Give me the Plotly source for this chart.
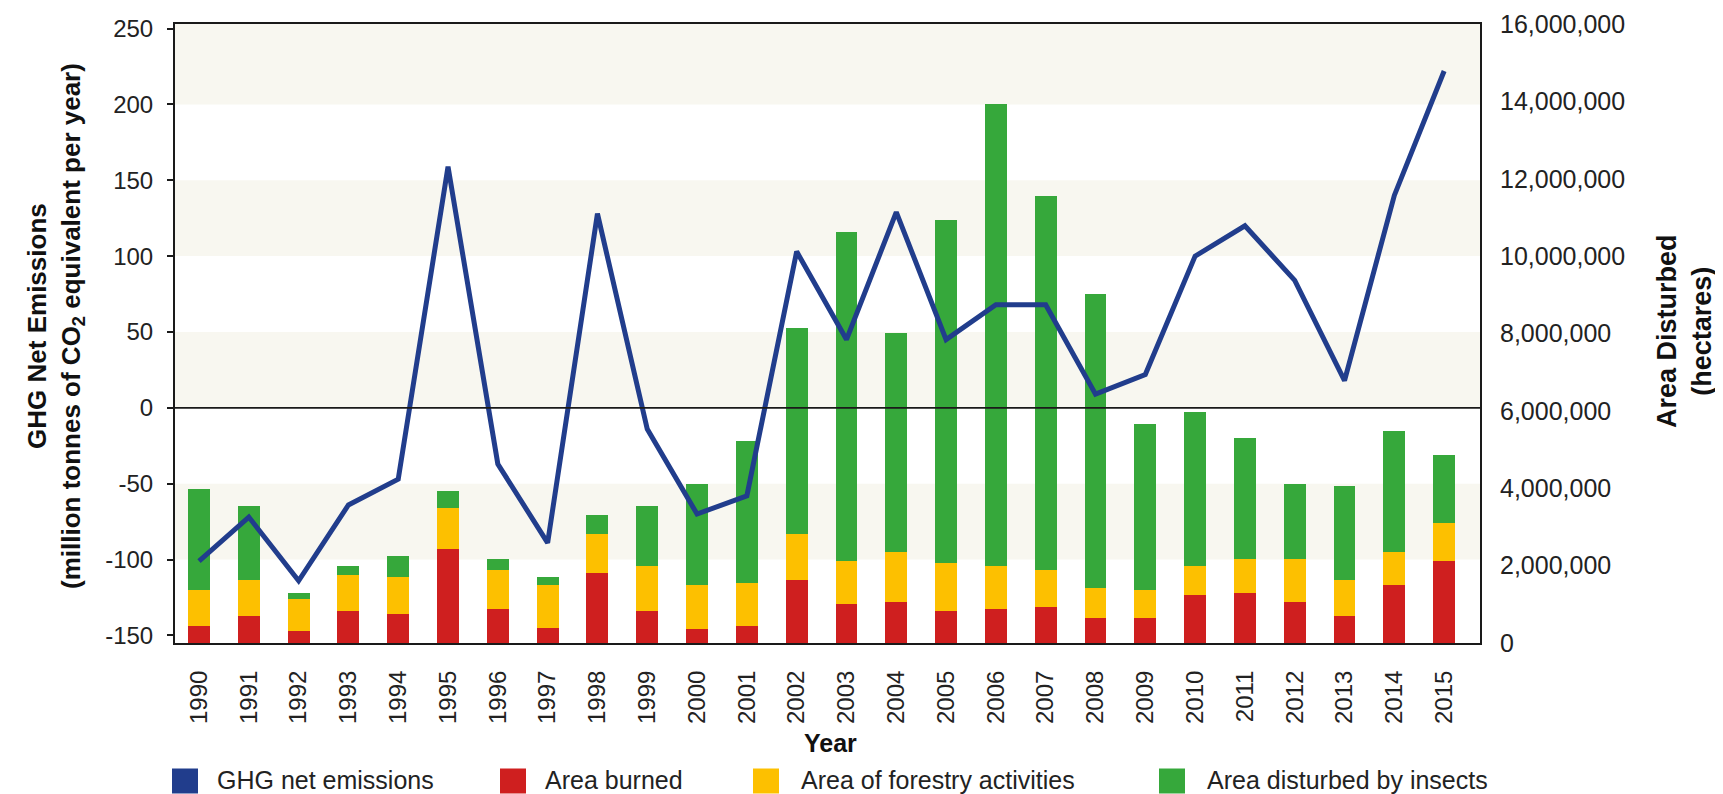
import plotly.graph_objects as go

# ---------------- data ----------------
years = [1990, 1991, 1992, 1993, 1994, 1995, 1996, 1997, 1998, 1999,
         2000, 2001, 2002, 2003, 2004, 2005, 2006, 2007, 2008, 2009,
         2010, 2011, 2012, 2013, 2014, 2015]

# GHG net emissions (Mt CO2e / yr)
ghg_net = [-101, -72, -114, -64, -47, 159, -37, -89, 128, -14,
           -70, -58, 103, 45, 129, 45, 68, 68, 9, 22,
           100, 120, 84, 18, 140, 222]

# Area disturbed (hectares)
area_burned = [450000, 690000, 320000, 820000, 750000, 2440000, 880000, 390000, 1820000, 820000,
               370000, 450000, 1620000, 1010000, 1060000, 820000, 880000, 930000, 640000, 640000,
               1250000, 1300000, 1060000, 690000, 1500000, 2120000]
area_forestry = [930000, 930000, 820000, 930000, 950000, 1060000, 1000000, 1110000, 990000, 1170000,
                 1130000, 1110000, 1190000, 1110000, 1300000, 1250000, 1110000, 950000, 790000, 740000,
                 740000, 870000, 1110000, 930000, 860000, 980000]
area_insects = [2600000, 1930000, 160000, 240000, 550000, 420000, 290000, 200000, 500000, 1560000,
                2610000, 3660000, 5330000, 8500000, 5660000, 8870000, 11940000, 9670000, 7580000, 4290000,
                3980000, 3130000, 1940000, 2430000, 3120000, 1750000]

ghg_ticks = [-150, -100, -50, 0, 50, 100, 150, 200, 250]
band_ranges = [(-100, -50), (0, 50), (100, 150), (200, 253)]

legend_labels = ["GHG net emissions", "Area burned", "Area of forestry activities",
                 "Area disturbed by insects"]

# ---------------- styles ----------------
C_LINE = "#213d8c"
C_RED = "#cf1f1f"
C_YEL = "#fdc000"
C_GRN = "#36a83b"
C_BAND = "#f8f7f0"
FONT = "Liberation Sans, Arial, sans-serif"

fig = go.Figure()

fig.add_trace(go.Bar(x=years, y=area_burned, name=legend_labels[1], marker_color=C_RED,
                     marker_line_width=0, yaxis="y", showlegend=False))
fig.add_trace(go.Bar(x=years, y=area_forestry, name=legend_labels[2], marker_color=C_YEL,
                     marker_line_width=0, yaxis="y", showlegend=False))
fig.add_trace(go.Bar(x=years, y=area_insects, name=legend_labels[3], marker_color=C_GRN,
                     marker_line_width=0, yaxis="y", showlegend=False))
fig.add_trace(go.Scatter(x=years, y=ghg_net, name=legend_labels[0], mode="lines",
                         line=dict(color=C_LINE, width=5), yaxis="y2", showlegend=False))

# background bands (on GHG axis)
shapes = []
for lo, hi in band_ranges:
    shapes.append(dict(type="rect", xref="paper", x0=0, x1=1, yref="y2", y0=lo, y1=hi,
                       fillcolor=C_BAND, line_width=0, layer="below"))
# zero line
shapes.append(dict(type="line", xref="paper", x0=0, x1=1, yref="y2", y0=0, y1=0,
                   line=dict(color="#1a1a1a", width=1.8), layer="above"))

# custom legend (layout only)
L, R, T, B = 167, 251, 16, 159
W, H = 1723, 794
PW, PH = W - L - R, H - T - B


def px_x(px):
    return (px - L) / PW


def px_y(py):
    return (H - B - py) / PH


legend_colors = [C_LINE, C_RED, C_YEL, C_GRN]
legend_sq_x = [164, 492, 745, 1151]
legend_tx_x = [208, 536, 792, 1198]
leg_cy = 773
annotations = []
for lab, col, sx, tx in zip(legend_labels, legend_colors, legend_sq_x, legend_tx_x):
    shapes.append(dict(type="rect", xref="paper", yref="paper",
                       x0=px_x(sx), x1=px_x(sx + 26), y0=px_y(leg_cy + 12.5), y1=px_y(leg_cy - 12.5),
                       fillcolor=col, line_width=0))
    annotations.append(dict(text=lab, xref="paper", yref="paper", x=px_x(tx), y=px_y(leg_cy - 1),
                            xanchor="left", yanchor="middle", showarrow=False, borderpad=0,
                            font=dict(family=FONT, size=25, color="#222")))

# axis titles
annotations.append(dict(text="<b>GHG Net Emissions<br>(million tonnes of CO<sub>2</sub> equivalent per year)</b>",
                        xref="paper", yref="paper", x=px_x(47), y=px_y(318),
                        xanchor="center", yanchor="middle", textangle=-90, showarrow=False,
                        font=dict(family=FONT, size=26, color="#111")))
annotations.append(dict(text="<b>Area Disturbed<br>(hectares)</b>",
                        xref="paper", yref="paper", x=px_x(1677), y=px_y(323),
                        xanchor="center", yanchor="middle", textangle=-90, showarrow=False,
                        font=dict(family=FONT, size=27, color="#111")))
annotations.append(dict(text="<b>Year</b>", xref="paper", yref="paper", x=px_x(823), y=px_y(735),
                        xanchor="center", yanchor="middle", showarrow=False,
                        font=dict(family=FONT, size=25, color="#111")))

fig.update_layout(
    width=W, height=H,
    margin=dict(l=L, r=R, t=T, b=B, autoexpand=False),
    paper_bgcolor="white", plot_bgcolor="white",
    barmode="stack", bargap=0.56,
    showlegend=False,
    shapes=shapes, annotations=annotations,
    xaxis=dict(range=[1989.518, 2015.72], tickmode="array", tickvals=years,
               ticktext=[str(y) for y in years], tickangle=-90,
               tickfont=dict(family=FONT, size=24, color="#222"),
               ticks="", ticklabelstandoff=16,
               showline=True, linecolor="#1a1a1a", linewidth=2, mirror=True,
               showgrid=False, zeroline=False, anchor="y"),
    yaxis=dict(range=[0, 16000000], dtick=2000000, tick0=0, tickformat=",d", side="right",
               tickfont=dict(family=FONT, size=25, color="#222"),
               ticks="", ticklabelstandoff=13,
               showline=True, linecolor="#1a1a1a", linewidth=2,
               showgrid=False, zeroline=False, anchor="x"),
    yaxis2=dict(range=[-155, 253], tickmode="array", tickvals=ghg_ticks,
                ticktext=[str(t) for t in ghg_ticks], side="left", overlaying="y", anchor="x",
                tickfont=dict(family=FONT, size=24, color="#222"),
                ticks="outside", ticklen=6, tickwidth=1.5, tickcolor="#1a1a1a", ticklabelstandoff=9,
                showline=True, linecolor="#1a1a1a", linewidth=2,
                showgrid=False, zeroline=False),
)

fig.write_html("out.html")
